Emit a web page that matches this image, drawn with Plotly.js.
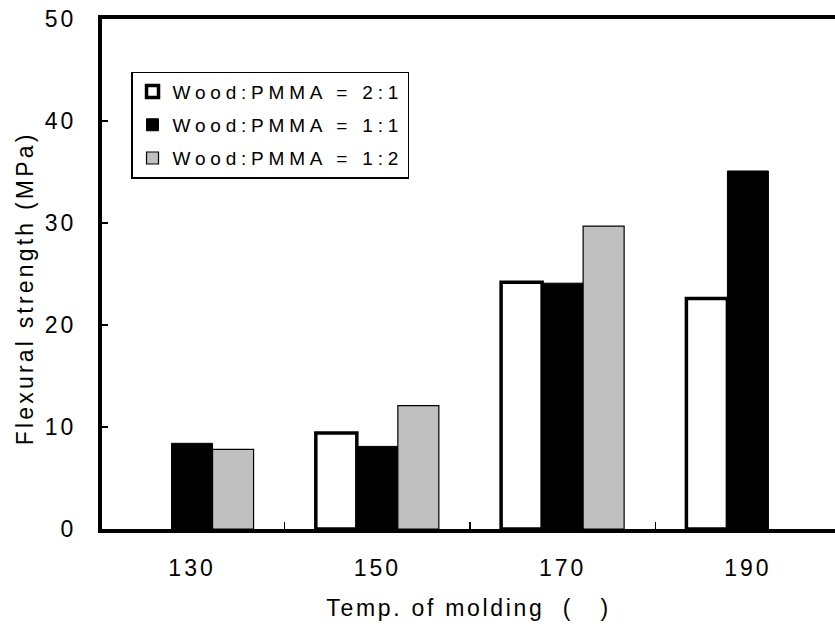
<!DOCTYPE html>
<html>
<head>
<meta charset="utf-8">
<script src="https://cdn.plot.ly/plotly-3.0.1.min.js"></script>
<style>
  html, body { margin: 0; padding: 0; background: #fff; }
  #chart { width: 835px; height: 626px; }
  .legendtext { letter-spacing: 4.8px; }
  .xtick text, .ytick text { letter-spacing: 3px; }
  .xtitle { letter-spacing: 2.7px; }
  .ytitle { letter-spacing: 3.2px; }
</style>
</head>
<body>
<div id="chart"></div>
<script>
const categories = ['130', '150', '170', '190'];
const seriesNames = ['Wood:PMMA = 2:1', 'Wood:PMMA = 1:1', 'Wood:PMMA = 1:2'];
const ratio21 = [null, 9.4, 24.2, 22.6];
const ratio11 = [8.4, 8.1, 24.1, 35.1];
const ratio12 = [7.8, 12.1, 29.7, null];
const yTicks = [0, 10, 20, 30, 40, 50];

const FONT = 'Liberation Sans, Arial, sans-serif';
const NB = '\u00a0';

const traces = [
  { type: 'bar', name: seriesNames[0], x: categories, y: ratio21, legendgroup: 'a',
    marker: { color: '#ffffff', line: { color: '#000000', width: 3.5 } } },
  { type: 'bar', name: seriesNames[1], x: categories, y: ratio11, legendgroup: 'b',
    marker: { color: '#000000', line: { color: '#000000', width: 1 } } },
  { type: 'bar', name: seriesNames[2], x: categories, y: ratio12, legendgroup: 'c',
    marker: { color: '#c0c0c0', line: { color: '#000000', width: 1.2 } } }
];

const layout = {
  width: 835, height: 626,
  margin: { l: 102, r: 0, t: 18.5, b: 96.5, pad: 0 },
  paper_bgcolor: '#ffffff', plot_bgcolor: '#ffffff',
  font: { family: FONT, color: '#000000', size: 22 },
  barmode: 'group', bargap: 0.336, bargroupgap: 0,
  showlegend: true,
  legend: {
    x: 0.04, y: 0.897, xanchor: 'left', yanchor: 'top',
    bgcolor: '#ffffff', bordercolor: '#000000', borderwidth: 1.2,
    font: { family: FONT, size: 19, color: '#000000' },
    traceorder: 'grouped', tracegroupgap: 5.5
  },
  xaxis: {
    type: 'category', range: [-0.486, 3.47], autorange: false,
    showline: true, linecolor: '#000000', linewidth: 4, mirror: true,
    ticks: 'inside', ticklen: 7, tickwidth: 1.5, tickcolor: '#000000',
    tickson: 'boundaries', showgrid: false, zeroline: false,
    tickfont: { family: FONT, size: 23, color: '#000000' },
    ticklabelstandoff: 15,
    title: { text: 'Temp. of molding' + NB + NB + '(' + NB + NB + NB + ')', font: { family: FONT, size: 23, color: '#000000' }, standoff: 21 }
  },
  yaxis: {
    range: [0, 50], autorange: false, tickvals: yTicks,
    showline: true, linecolor: '#000000', linewidth: 4, mirror: false,
    ticks: 'inside', ticklen: 6, tickwidth: 1.5, tickcolor: '#000000',
    showgrid: false, zeroline: false,
    tickfont: { family: FONT, size: 23, color: '#000000' },
    ticklabelstandoff: 17,
    title: { text: 'Flexural strength (MPa)' + NB.repeat(3) + '\u200b', font: { family: FONT, size: 23, color: '#000000' }, standoff: 6 }
  }
};

Plotly.newPlot('chart', traces, layout, { displayModeBar: false, staticPlot: true });
</script>
</body>
</html>
